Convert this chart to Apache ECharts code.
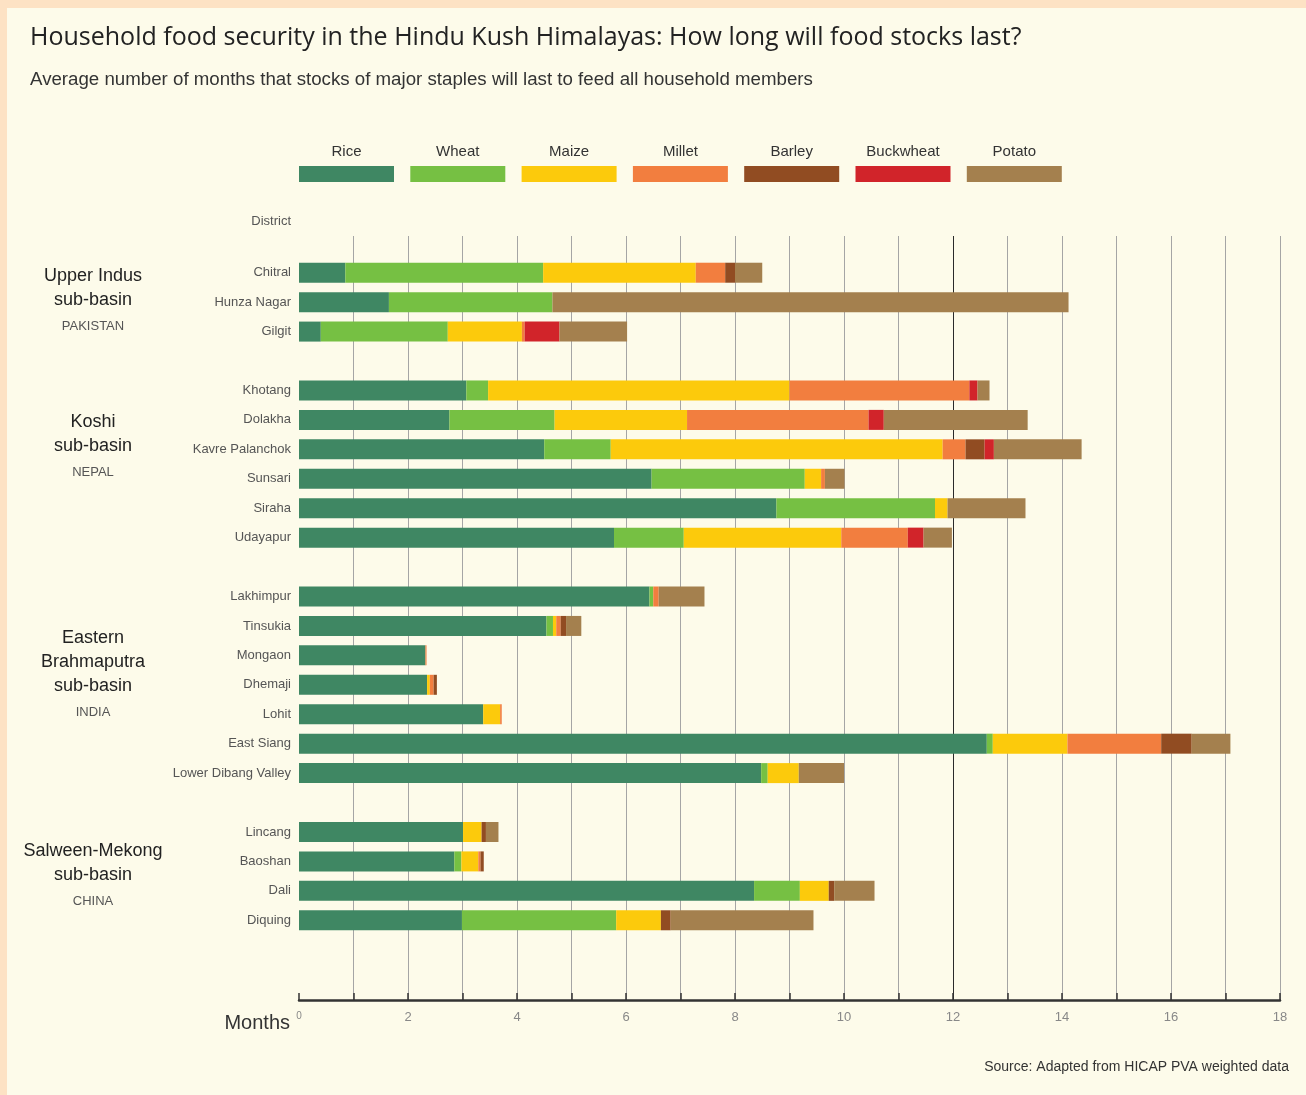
<!DOCTYPE html>
<html>
<head>
<meta charset="utf-8">
<script src="https://cdn.jsdelivr.net/npm/echarts@6/dist/echarts.min.js"></script>
<style>
  html, body { margin: 0; padding: 0; }
  #chart {
    width: 1306px; height: 1095px;
    background: #fdfbea;
    box-shadow: inset 7px 8px 0 #fde2c4;
  }
</style>
</head>
<body>
<div id="chart"></div>
<script>
// Staples and their colours, in stacking order
const crops = ['Rice', 'Wheat', 'Maize', 'Millet', 'Barley', 'Buckwheat', 'Potato'];
const cropColors = ['#3f8763', '#76c043', '#fcca0c', '#f27e3f', '#914c22', '#d1242a', '#a4804e'];

// Districts, top to bottom, grouped by sub-basin
const districts = [
  'Chitral', 'Hunza Nagar', 'Gilgit',
  'Khotang', 'Dolakha', 'Kavre Palanchok', 'Sunsari', 'Siraha', 'Udayapur',
  'Lakhimpur', 'Tinsukia', 'Mongaon', 'Dhemaji', 'Lohit', 'East Siang', 'Lower Dibang Valley',
  'Lincang', 'Baoshan', 'Dali', 'Diquing'
];
const groupSizes = [3, 6, 7, 4];
const basinNames = [
  ['Upper Indus', 'sub-basin'],
  ['Koshi', 'sub-basin'],
  ['Eastern', 'Brahmaputra', 'sub-basin'],
  ['Salween-Mekong', 'sub-basin']
];
const countries = ['PAKISTAN', 'NEPAL', 'INDIA', 'CHINA'];

// Average months of household supply from each staple, per district
const rice      = [0.85, 1.65, 0.40, 3.07, 2.76, 4.50, 6.47, 8.76, 5.78, 6.43, 4.54, 2.32, 2.35, 3.38, 12.62, 8.48, 3.01, 2.85, 8.35, 2.99];
const wheat     = [3.63, 3.00, 2.33, 0.40, 1.93, 1.22, 2.81, 2.91, 1.28, 0.07, 0.12, 0, 0, 0, 0.11, 0.12, 0, 0.13, 0.84, 2.83];
const maize     = [2.80, 0, 1.36, 5.53, 2.43, 6.09, 0.30, 0.23, 2.89, 0, 0.06, 0, 0.05, 0.31, 1.37, 0.57, 0.34, 0.31, 0.53, 0.82];
const millet    = [0.54, 0, 0.05, 3.30, 3.33, 0.42, 0.07, 0, 1.22, 0.10, 0.08, 0.02, 0.07, 0.03, 1.72, 0, 0, 0.04, 0, 0];
const barley    = [0.18, 0, 0, 0, 0, 0.35, 0, 0, 0, 0, 0.10, 0, 0.06, 0, 0.56, 0, 0.08, 0.06, 0.10, 0.18];
const buckwheat = [0, 0, 0.64, 0.15, 0.28, 0.17, 0, 0, 0.29, 0, 0, 0, 0, 0, 0, 0, 0, 0, 0, 0];
const potato    = [0.50, 9.47, 1.24, 0.22, 2.64, 1.61, 0.36, 1.43, 0.52, 0.84, 0.28, 0, 0, 0, 0.71, 0.83, 0.23, 0, 0.74, 2.62];
const cropValues = [rice, wheat, maize, millet, barley, buckwheat, potato];

// Month axis
const monthMin = 0, monthMax = 18, monthStep = 1, highlightMonth = 12;

// Category rows: districts with one empty row between sub-basins
const rows = [];
const rowToDistrict = [];
let di = 0;
groupSizes.forEach((n, g) => {
  for (let k = 0; k < n; k++) { rows.push(districts[di]); rowToDistrict.push(di); di++; }
  if (g < groupSizes.length - 1) { rows.push(' '.repeat(g + 1)); rowToDistrict.push(-1); }
});

const FONT = '"Liberation Sans", Arial, sans-serif';

const series = crops.map((name, c) => ({
  name,
  type: 'bar',
  stack: 'months',
  xAxisIndex: 1,
  yAxisIndex: 1,
  barWidth: 20,
  itemStyle: { color: cropColors[c] },
  data: rowToDistrict.map(d => (d < 0 ? '-' : cropValues[c][d]))
}));

// One legend block per staple, icons in a row; names sit above them
const legendLeft = 299, legendPitch = 111.3, legendTop = 166;
const legends = crops.map((name, c) => ({
  data: [name],
  left: legendLeft + c * legendPitch,
  top: legendTop,
  padding: 0,
  icon: 'rect',
  itemWidth: 95,
  itemHeight: 16,
  selectedMode: false,
  formatter: () => ''
}));

const graphics = [];
crops.forEach((name, c) => {
  graphics.push({
    type: 'text', x: legendLeft + c * legendPitch + 47.5, y: 152, silent: true,
    style: { text: name, align: 'center', verticalAlign: 'middle', fontSize: 15, fontFamily: FONT, fill: '#333' }
  });
});

// Sub-basin captions beside each block of districts
const captionTop = [276, 422, 638, 851];
basinNames.forEach((lines, g) => {
  lines.forEach((t, k) => {
    graphics.push({
      type: 'text', x: 93, y: captionTop[g] + k * 24, silent: true,
      style: { text: t, align: 'center', verticalAlign: 'middle', fontSize: 18, fontFamily: FONT, fill: '#222' }
    });
  });
  graphics.push({
    type: 'text', x: 93, y: captionTop[g] + (lines.length - 1) * 24 + 26, silent: true,
    style: { text: countries[g], align: 'center', verticalAlign: 'middle', fontSize: 13, fontFamily: FONT, fill: '#555' }
  });
});

graphics.push({
  type: 'text', x: 1289, y: 1067, silent: true,
  style: { text: 'Source: Adapted from HICAP PVA weighted data', align: 'right', verticalAlign: 'middle',
           fontSize: 14, fontFamily: FONT, fill: '#333' }
});

// Gridline colour per month; the twelve-month line is drawn dark, the zero line is left out
const gridColors = [];
for (let m = monthMin; m <= monthMax; m += monthStep) {
  gridColors.push(m === monthMin ? 'rgba(0,0,0,0)' : (m === highlightMonth ? '#2a2a2a' : '#a5a5a5'));
}

const chart = echarts.init(document.getElementById('chart'), null, { renderer: 'canvas' });
chart.setOption({
  animation: false,
  textStyle: { fontFamily: FONT },
  title: [
    { text: 'Household food security in the Hindu Kush Himalayas: How long will food stocks last?',
      left: 30, top: 25, padding: 0,
      textStyle: { fontFamily: '"Open Sans", "Noto Sans", sans-serif', fontSize: 25, fontWeight: 'normal', color: '#222' } },
    { text: 'Average number of months that stocks of major staples will last to feed all household members',
      left: 30, top: 70, padding: 0,
      textStyle: { fontFamily: FONT, fontSize: 18.7, fontWeight: 'normal', color: '#333' } }
  ],
  legend: legends,
  grid: [
    // month gridlines and axis
    { left: 299, right: 26, top: 236, bottom: 95, outerBoundsMode: 'none' },
    // district bars
    { left: 299, right: 26, top: 258, bottom: 160, outerBoundsMode: 'none' }
  ],
  xAxis: [
    {
      gridIndex: 0, type: 'value', min: monthMin, max: monthMax, interval: monthStep,
      name: 'Months', nameLocation: 'start', nameGap: 9,
      nameTextStyle: { fontSize: 20, color: '#333', fontFamily: FONT, verticalAlign: 'top', padding: [13, 0, 0, 0] },
      axisLine: { show: true, lineStyle: { color: '#333', width: 2.5 } },
      axisTick: { show: true, inside: true, length: 7, lineStyle: { color: '#333', width: 1.5 } },
      axisLabel: {
        margin: 11, color: '#888', fontSize: 13, fontFamily: FONT,
        formatter: v => (v === 0 ? '{s|0}' : (v % 2 === 0 ? String(v) : '')),
        rich: { s: { fontSize: 10, color: '#888', padding: [0, 0, 4, 0] } }
      },
      splitLine: { show: true, lineStyle: { color: gridColors, width: 1 } }
    },
    { gridIndex: 1, type: 'value', min: monthMin, max: monthMax, interval: monthStep, show: false }
  ],
  yAxis: [
    { gridIndex: 0, type: 'value', min: 0, max: 1, show: false },
    {
      gridIndex: 1, type: 'category', inverse: true, data: rows,
      name: 'District', nameLocation: 'start', nameGap: 37,
      nameTextStyle: { align: 'right', verticalAlign: 'middle', fontSize: 13, color: '#555', padding: [0, 8, 0, 0] },
      axisLine: { show: false }, axisTick: { show: false }, splitLine: { show: false },
      axisLabel: { margin: 8, fontSize: 13, color: '#555', fontFamily: FONT }
    }
  ],
  graphic: graphics,
  series
});
</script>
</body>
</html>
